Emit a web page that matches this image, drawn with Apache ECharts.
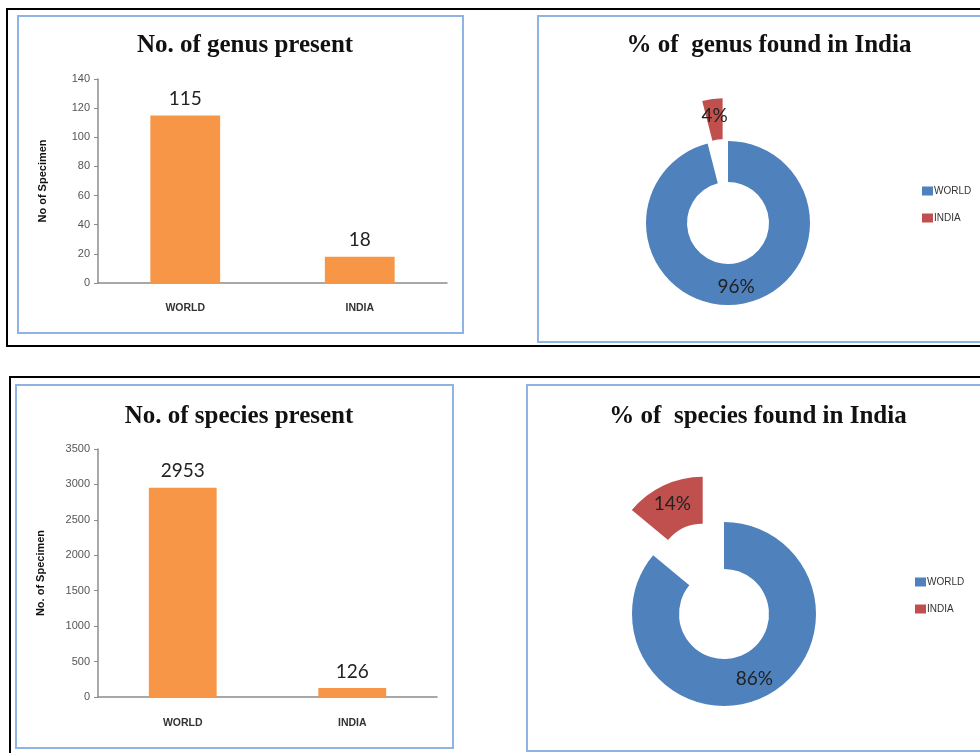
<!DOCTYPE html>
<html>
<head>
<meta charset="utf-8">
<script src="https://cdn.jsdelivr.net/npm/echarts@6/dist/echarts.min.js"></script>
<style>
html,body{margin:0;padding:0;background:#fff;}
#c{width:980px;height:753px;}
</style>
</head>
<body>
<div id="c"></div>
<script>
// ---- data ----
const barCategories = ['WORLD', 'INDIA'];
const genusCounts = [115, 18];
const speciesCounts = [2953, 126];
const pieNames = ['WORLD', 'INDIA'];
const genusPercent = [96, 4];
const speciesPercent = [86, 14];
const genusTicks = {min: 0, max: 140, interval: 20};
const speciesTicks = {min: 0, max: 3500, interval: 500};

const ORANGE = '#F79646', BLUE = '#4F81BD', RED = '#C0504D', PANEL = '#8DB4E2';
const titleFont = {fontFamily: 'Liberation Serif', fontWeight: 'bold', fontSize: 25, color: '#111'};
const calibri = 'Lato';

function valueAxis(gi, t, name, gap) {
  return {
    type: 'value', gridIndex: gi, min: t.min, max: t.max, interval: t.interval,
    name: name, nameLocation: 'middle', nameGap: gap, nameRotate: 90,
    nameTextStyle: {fontFamily: 'Liberation Sans', fontWeight: 'bold', fontSize: 11, color: '#111'},
    axisLine: {show: true, lineStyle: {color: '#8c8c8c', width: 1.5}},
    axisTick: {show: true, inside: false, length: 4, lineStyle: {color: '#8c8c8c'}},
    axisLabel: {fontFamily: 'Liberation Sans', fontSize: 11, color: '#555', margin: 8, formatter: v => String(v)},
    splitLine: {show: false}
  };
}
function catAxis(gi, margin) {
  return {
    type: 'category', gridIndex: gi, data: barCategories,
    axisLine: {lineStyle: {color: '#8c8c8c', width: 1.5}},
    axisTick: {show: false},
    axisLabel: {fontFamily: 'Liberation Sans', fontWeight: 'bold', fontSize: 10.5, color: '#333', margin: margin}
  };
}
function barSeries(gi, data) {
  return {
    type: 'bar', xAxisIndex: gi, yAxisIndex: gi, data: data, barWidth: '40%',
    itemStyle: {color: ORANGE},
    label: {show: true, position: 'top', distance: 7, fontFamily: calibri, fontSize: 19, color: '#222'},
    emphasis: {disabled: true}
  };
}
function pieSeries(center, radius, values, offset) {
  return {
    type: 'pie', center: center, radius: radius, startAngle: 90, clockwise: true,
    selectedMode: 'single', selectedOffset: offset, avoidLabelOverlap: false,
    label: {show: true, position: 'inside', formatter: '{c}%', fontFamily: calibri, fontSize: 19, color: '#222'},
    labelLine: {show: false},
    emphasis: {disabled: true},
    data: pieNames.map((n, i) => ({
      name: n, value: values[i], selected: i === 1,
      itemStyle: {color: i === 0 ? BLUE : RED}
    }))
  };
}
function pieLegend(left, top) {
  return {
    orient: 'vertical', left: left, top: top, icon: 'rect', itemWidth: 11, itemHeight: 9,
    itemGap: 17, data: pieNames, selectedMode: false,
    textStyle: {fontFamily: 'Liberation Sans', fontSize: 10, color: '#333', padding: [0, 0, 0, -4]}
  };
}

const chart = echarts.init(document.getElementById('c'));
chart.setOption({
  animation: false,
  backgroundColor: '#fff',
  graphic: [
    {type: 'rect', shape: {x: 7, y: 9, width: 990, height: 337}, style: {fill: 'none', stroke: '#000', lineWidth: 2}, z: 0},
    {type: 'rect', shape: {x: 10, y: 377, width: 990, height: 400}, style: {fill: 'none', stroke: '#000', lineWidth: 2}, z: 0},
    {type: 'rect', shape: {x: 18, y: 16, width: 445, height: 317}, style: {fill: 'none', stroke: PANEL, lineWidth: 2}, z: 0},
    {type: 'rect', shape: {x: 538, y: 16, width: 460, height: 326}, style: {fill: 'none', stroke: PANEL, lineWidth: 2}, z: 0},
    {type: 'rect', shape: {x: 16, y: 385, width: 437, height: 363}, style: {fill: 'none', stroke: PANEL, lineWidth: 2}, z: 0},
    {type: 'rect', shape: {x: 527, y: 385, width: 470, height: 366}, style: {fill: 'none', stroke: PANEL, lineWidth: 2}, z: 0}
  ],
  title: [
    {text: 'No. of genus present', left: 240, top: 28, textAlign: 'center', textStyle: titleFont},
    {text: '% of  genus found in India', left: 764, top: 28, textAlign: 'center', textStyle: titleFont},
    {text: 'No. of species present', left: 234, top: 399, textAlign: 'center', textStyle: titleFont},
    {text: '% of  species found in India', left: 753, top: 399, textAlign: 'center', textStyle: titleFont}
  ],
  legend: [pieLegend(917, 181), pieLegend(910, 572)],
  grid: [
    {left: 98, top: 79, width: 349, height: 204},
    {left: 98, top: 449, width: 339, height: 248}
  ],
  xAxis: [catAxis(0, 20), catAxis(1, 21)],
  yAxis: [valueAxis(0, genusTicks, 'No of Specimen', 50), valueAxis(1, speciesTicks, 'No. of Specimen', 52)],
  series: [
    barSeries(0, genusCounts),
    barSeries(1, speciesCounts),
    pieSeries([728, 223], [41, 82], genusPercent, 43),
    pieSeries([724, 614], [45, 92], speciesPercent, 50)
  ]
});
</script>
</body>
</html>
